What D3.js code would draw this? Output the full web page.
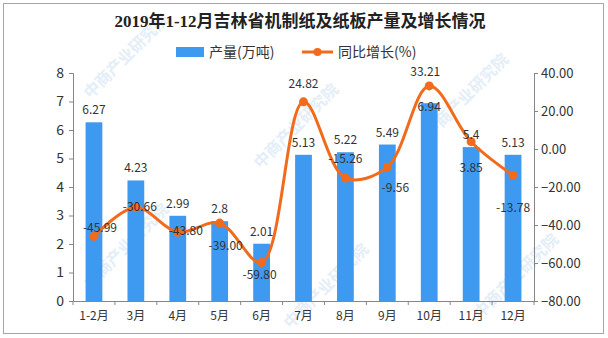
<!DOCTYPE html>
<html>
<head>
<meta charset="utf-8">
<script src="https://cdn.jsdelivr.net/npm/d3@7"></script>
<style>
body { margin: 0; background: #fff; }
svg text { font-family: "SimSun", "Noto Sans CJK SC", sans-serif; }
</style>
</head>
<body>
<div id="chart"></div>
<script>
// data
const months = ["1-2月", "3月", "4月", "5月", "6月", "7月", "8月", "9月", "10月", "11月", "12月"]
const output = [6.27, 4.23, 2.99, 2.8, 2.01, 5.13, 5.22, 5.49, 6.94, 5.4, 5.13]
const growth = [-45.99, -30.66, -43.80, -39.00, -59.80, 24.82, -15.26, -9.56, 33.21, 3.85, -13.78]
const leftTicks = [0, 1, 2, 3, 4, 5, 6, 7, 8]
const rightTicks = [-80, -60, -40, -20, 0, 20, 40]

// where each growth label sits relative to its dot (px)
const growthLabelDx = [6, 4, 8, 6, -2, 0, 0, 8, -4, 0, 0]
const growthLabelDy = [-4, 4, 3, 27, 16, -14, -15, 25, -10, 30, 37]

const W = 608, H = 338
const margin = { left: 73, right: 74, top: 73, bottom: 37 }
const blue = "#3d9af0", orange = "#f26b1d"

const svg = d3.select("#chart")
    .append("svg")
    .attr("width", W)
    .attr("height", H)

svg.append("rect")
    .attr("x", 3.5).attr("y", 3.5)
    .attr("width", 600).attr("height", 330)
    .attr("fill", "none")
    .attr("stroke", "#a6a6a6")

// watermarks
const marks = [[130, 60], [300, 130], [130, 250], [470, 100], [330, 290], [520, 280]]
marks.forEach(m => {
    svg.append("text")
        .attr("transform", `translate(${m[0]},${m[1]}) rotate(-45)`)
        .attr("font-size", 16)
        .attr("font-weight", "bold")
        .attr("fill", "#e4eef8")
        .attr("text-anchor", "middle")
        .text("中商产业研究院")
})

const x = d3.scaleBand()
    .domain(months)
    .range([margin.left, W - margin.right])

const yL = d3.scaleLinear().domain([0, 8]).range([H - margin.bottom, margin.top])
const yR = d3.scaleLinear().domain([-80, 40]).range([H - margin.bottom, margin.top])

// bars
svg.append("g")
    .selectAll("rect")
    .data(output)
    .enter()
    .append("rect")
    .attr("x", (d, i) => x(months[i]) + x.bandwidth() * 0.3)
    .attr("width", x.bandwidth() * 0.4)
    .attr("y", d => yL(d))
    .attr("height", d => yL(0) - yL(d))
    .attr("fill", blue)

// axes
const axL = svg.append("g")
    .attr("transform", `translate(${margin.left},0)`)
    .call(d3.axisLeft(yL).tickValues(leftTicks).tickSize(4).tickPadding(5).tickFormat(d3.format("d")))
const axR = svg.append("g")
    .attr("transform", `translate(${W - margin.right},0)`)
    .call(d3.axisRight(yR).tickValues(rightTicks).tickSize(4).tickPadding(3).tickFormat(d3.format(".2f")))
const axB = svg.append("g")
    .attr("transform", `translate(0,${H - margin.bottom})`)
    .call(d3.axisBottom(x).tickSize(0).tickPadding(10))

;[axL, axR, axB].forEach(a => {
    a.select(".domain").attr("stroke", "#868686")
    a.selectAll(".tick line").attr("stroke", "#868686")
    a.selectAll("text")
        .attr("fill", "#333")
        .style("font-family", "SimSun, 'Noto Sans CJK SC', sans-serif")
})
axL.selectAll("text").attr("font-size", 14)
axR.selectAll("text").attr("font-size", 13)
axB.selectAll("text").attr("font-size", 12)

// bottom tick marks between categories
svg.append("g")
    .selectAll("line")
    .data(months.concat([""]))
    .enter()
    .append("line")
    .attr("x1", (d, i) => margin.left + i * x.step())
    .attr("x2", (d, i) => margin.left + i * x.step())
    .attr("y1", H - margin.bottom)
    .attr("y2", H - margin.bottom + 4)
    .attr("stroke", "#868686")

// growth line
const line = d3.line()
    .x((d, i) => x(months[i]) + x.bandwidth() / 2)
    .y(d => yR(d))
    .curve(d3.curveCatmullRom.alpha(0.5))

svg.append("path")
    .datum(growth)
    .attr("d", line)
    .attr("fill", "none")
    .attr("stroke", orange)
    .attr("stroke-width", 3)

svg.append("g")
    .selectAll("circle")
    .data(growth)
    .enter()
    .append("circle")
    .attr("cx", (d, i) => x(months[i]) + x.bandwidth() / 2)
    .attr("cy", d => yR(d))
    .attr("r", 4.5)
    .attr("fill", orange)

// bar labels
svg.append("g")
    .selectAll("text")
    .data(output)
    .enter()
    .append("text")
    .attr("x", (d, i) => x(months[i]) + x.bandwidth() / 2)
    .attr("y", (d, i) => yL(d) - (i == 8 ? -8 : 8))
    .attr("text-anchor", "middle")
    .attr("font-size", 12)
    .attr("fill", "#333")
    .text(d => d)

// growth labels
svg.append("g")
    .selectAll("text")
    .data(growth)
    .enter()
    .append("text")
    .attr("x", (d, i) => x(months[i]) + x.bandwidth() / 2 + growthLabelDx[i])
    .attr("y", (d, i) => yR(d) + growthLabelDy[i])
    .attr("text-anchor", "middle")
    .attr("font-size", 12)
    .attr("fill", "#333")
    .text(d => d.toFixed(2))

// title
svg.append("text")
    .attr("x", 300)
    .attr("y", 27)
    .attr("text-anchor", "middle")
    .attr("font-size", 17)
    .attr("font-weight", "bold")
    .attr("fill", "#222")
    .style("font-family", "'Liberation Serif', 'Noto Sans CJK SC', serif")
    .text("2019年1-12月吉林省机制纸及纸板产量及增长情况")

// legend
const lg = svg.append("g").attr("transform", "translate(0,53)")
lg.append("rect").attr("x", 176).attr("y", -6).attr("width", 28).attr("height", 10).attr("fill", blue)
lg.append("text").attr("x", 209).attr("y", 4).attr("font-size", 14).attr("fill", "#333").text("产量(万吨)")
lg.append("line").attr("x1", 302).attr("x2", 333).attr("y1", -1).attr("y2", -1).attr("stroke", orange).attr("stroke-width", 3)
lg.append("circle").attr("cx", 317.5).attr("cy", -1).attr("r", 4).attr("fill", orange)
lg.append("text").attr("x", 338).attr("y", 4).attr("font-size", 14).attr("fill", "#333").text("同比增长(%)")
</script>
</body>
</html>
